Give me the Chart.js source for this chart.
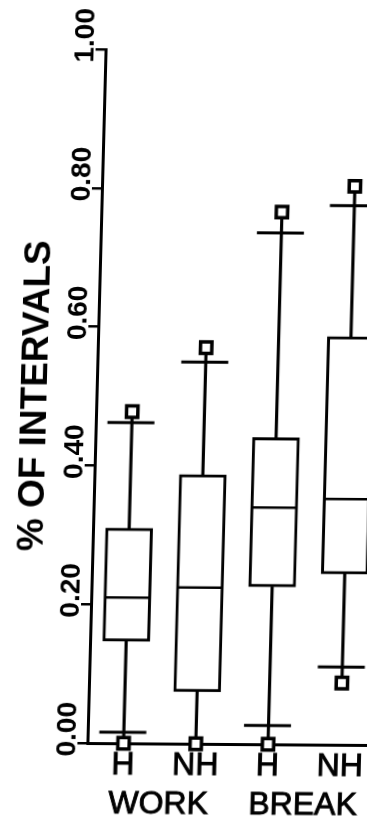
<!DOCTYPE html>
<html>
<head>
<meta charset="utf-8">
<script src="https://cdn.jsdelivr.net/npm/chart.js@4.4.1/dist/chart.umd.min.js"></script>
<style>
  html, body { margin: 0; padding: 0; background: #fff; overflow: hidden; }
  #wrap { width: 400px; height: 833px; transform: skew(-1.5deg, 0.4deg); transform-origin: 200px 416px; }
  canvas { display: block; }
</style>
</head>
<body>
<div id="wrap"><canvas id="c" width="400" height="833"></canvas></div>
<script>
// ---- data ----
const categories = ['H', 'NH', 'H', 'NH'];
const groups = ['WORK', 'BREAK'];
const yTickLabels = ['0.00', '0.20', '0.40', '0.60', '0.80', '1.00'];
const q1 = [0.147, 0.075, 0.227, 0.246];
const median = [0.210, 0.225, 0.341, 0.354];
const q3 = [0.310, 0.388, 0.442, 0.588];
const capHigh = [0.462, 0.550, 0.737, 0.777];
const capLow = [0.016, null, 0.027, 0.112];
const maxVal = [0.478, 0.571, 0.767, 0.805];
const minVal = [0.0, 0.0, 0.0, 0.089];

const FONT = "'Liberation Sans', Arial, Helvetica, sans-serif";

const boxExtras = {
  id: 'boxExtras',
  afterDatasetsDraw(chart) {
    const { ctx, scales } = chart;
    const yS = scales.y;
    const meta = chart.getDatasetMeta(0);
    ctx.save();
    ctx.strokeStyle = '#000';
    ctx.lineCap = 'butt';
    meta.data.forEach((bar, i) => {
      const cx = bar.x;
      const half = bar.width / 2;
      // median
      ctx.lineWidth = 2.5;
      const ym = yS.getPixelForValue(median[i]);
      ctx.beginPath();
      ctx.moveTo(cx - half + 1.5, ym);
      ctx.lineTo(cx + half - 1.5, ym);
      ctx.stroke();
      // caps
      ctx.lineWidth = 3;
      [capHigh[i], capLow[i]].forEach(v => {
        if (v === null || v === undefined) return;
        const yc = yS.getPixelForValue(v);
        ctx.beginPath();
        ctx.moveTo(cx - half - 1, yc);
        ctx.lineTo(cx + half - 1, yc);
        ctx.stroke();
      });
    });
    ctx.restore();
  }
};

new Chart(document.getElementById('c'), {
  type: 'bar',
  data: {
    labels: categories,
    datasets: [
      {
        label: 'box',
        data: q1.map((v, i) => [v, q3[i]]),
        backgroundColor: '#fff',
        borderColor: '#000',
        borderWidth: 3,
        borderSkipped: false,
        barThickness: 47,
        grouped: false,
        order: 2
      },
      {
        label: 'upper whisker',
        data: q3.map((v, i) => [v, maxVal[i]]),
        backgroundColor: '#000',
        borderWidth: 0,
        barThickness: 2.5,
        grouped: false,
        order: 3
      },
      {
        label: 'lower whisker',
        data: q1.map((v, i) => [minVal[i], v]),
        backgroundColor: '#000',
        borderWidth: 0,
        barThickness: 2.5,
        grouped: false,
        order: 3
      },
      {
        type: 'line',
        label: 'max',
        data: maxVal,
        showLine: false,
        pointStyle: 'rect',
        pointRadius: 8,
        pointBackgroundColor: '#fff',
        pointBorderColor: '#000',
        pointBorderWidth: 3.5,
        clip: false,
        order: 0
      },
      {
        type: 'line',
        label: 'min',
        data: minVal,
        showLine: false,
        pointStyle: 'rect',
        pointRadius: 8,
        pointBackgroundColor: '#fff',
        pointBorderColor: '#000',
        pointBorderWidth: 3.5,
        clip: false,
        order: 0
      }
    ]
  },
  options: {
    responsive: false,
    animation: false,
    devicePixelRatio: 1,
    layout: { padding: { top: 50, right: 15, bottom: 0, left: 0 } },
    plugins: { legend: { display: false }, tooltip: { enabled: false } },
    scales: {
      x: {
        type: 'category',
        position: 'bottom',
        offset: true,
        weight: 0,
        grid: { display: false, drawTicks: false },
        border: { display: true, color: '#000', width: 3 },
        ticks: { color: '#000', textStrokeColor: '#000', textStrokeWidth: 0.9, font: { family: FONT, size: 32 }, padding: 3, maxRotation: 0, autoSkip: false },
        afterFit(s) { s.height = 42; }
      },
      x2: {
        type: 'category',
        labels: groups,
        position: 'bottom',
        offset: true,
        weight: 1,
        grid: { display: false, drawTicks: false },
        border: { display: false },
        ticks: { color: '#000', textStrokeColor: '#000', textStrokeWidth: 0.9, font: { family: FONT, size: 32 }, padding: 0, maxRotation: 0, autoSkip: false },
        afterFit(s) { s.height = 47; }
      },
      y: {
        type: 'linear',
        min: 0,
        max: 1,
        grid: { display: true, drawOnChartArea: false, drawTicks: true, tickLength: 10, color: '#000', lineWidth: 2.5 },
        border: { display: true, color: '#000', width: 3 },
        ticks: {
          stepSize: 0.2,
          autoSkip: false,
          minRotation: 90,
          maxRotation: 90,
          labelOffset: -41,
          padding: 10,
          color: '#000',
          font: { family: FONT, size: 28, weight: 'bold' },
          callback: (value, index) => yTickLabels[index]
        },
        title: {
          display: true,
          text: '% OF INTERVALS',
          color: '#000',
          font: { family: FONT, size: 37, weight: 'bold' },
          padding: { top: 14, bottom: 0 }
        },
        afterFit(s) { s.width = 96; }
      }
    }
  },
  plugins: [boxExtras]
});
</script>
</body>
</html>
